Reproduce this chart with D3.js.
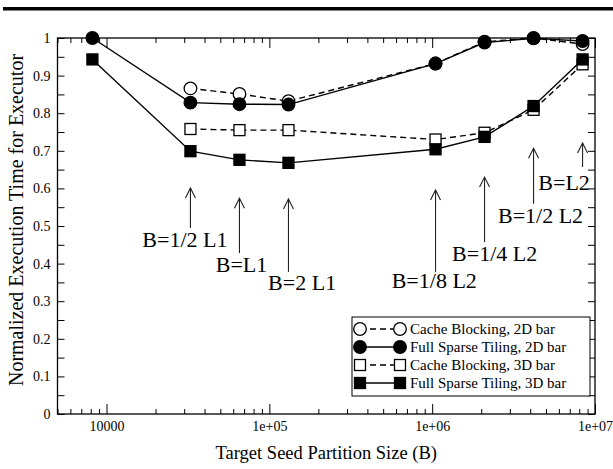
<!DOCTYPE html>
<html>
<head>
<meta charset="utf-8">
<script src="https://cdnjs.cloudflare.com/ajax/libs/d3/7.8.5/d3.min.js"></script>
<style>
  body { margin: 0; background: #fff; }
  svg { display: block; }
</style>
</head>
<body>
<div id="chart"></div>
<script>
var SERIF = '"Liberation Serif", "Times New Roman", serif';

// partition sizes (bytes) on the x axis
var sizes = [8192, 32768, 65536, 131072, 1048576, 2097152, 4194304, 8388608];

// normalized execution time per series (null = not measured)
var cacheBlocking2D  = [null, 0.866, 0.851, 0.832, 0.932, 0.990, 1.000, 0.984];
var fullSparse2D     = [1.000, 0.828, 0.824, 0.823, 0.932, 0.988, 0.999, 0.992];
var cacheBlocking3D  = [null, 0.758, 0.755, 0.755, 0.730, 0.748, 0.809, 0.930];
var fullSparse3D     = [0.943, 0.699, 0.676, 0.668, 0.704, 0.737, 0.819, 0.943];

var seriesNames = ["Cache Blocking, 2D bar", "Full Sparse Tiling, 2D bar",
                   "Cache Blocking, 3D bar", "Full Sparse Tiling, 3D bar"];

var yTickValues = [0, 0.1, 0.2, 0.3, 0.4, 0.5, 0.6, 0.7, 0.8, 0.9, 1];
var yTickLabels = ["0", "0.1", "0.2", "0.3", "0.4", "0.5", "0.6", "0.7", "0.8", "0.9", "1"];
var xTickValues = [1e4, 1e5, 1e6, 1e7];
var xTickLabels = ["10000", "1e+05", "1e+06", "1e+07"];

// arrow annotations: label, size pointed at, arrow tip / tail (y units), label anchor (size, y)
var noteLabels = ["B=1/2 L1", "B=L1", "B=2 L1", "B=1/8 L2", "B=1/4 L2", "B=1/2 L2", "B=L2"];
var noteSizes  = [32768, 65536, 131072, 1048576, 2097152, 4194304, 8388608];
var noteTips   = [0.601, 0.574, 0.572, 0.596, 0.630, 0.707, 0.721];
var noteTails  = [0.495, 0.428, 0.378, 0.378, 0.457, 0.559, 0.657];
var noteTextX  = [30300, 67500, 159000, 1030000, 2420000, 4630000, 6460000];
var noteTextY  = [0.444, 0.378, 0.330, 0.335, 0.407, 0.508, 0.596];

var W = 613, H = 469;
var margin = { top: 38, right: 18, bottom: 55, left: 57.5 };
var width = W - margin.left - margin.right,
    height = H - margin.top - margin.bottom;

var svg = d3.select("#chart").append("svg")
  .attr("width", W)
  .attr("height", H);

// thick rule at the top of the page
svg.append("rect")
  .attr("x", 3).attr("y", 7)
  .attr("width", W - 3).attr("height", 3.5)
  .attr("fill", "#000");

var g = svg.append("g")
  .attr("transform", "translate(" + margin.left + "," + margin.top + ")");

var x = d3.scaleLog().domain([5000, 1e7]).range([0, width]);
var y = d3.scaleLinear().domain([0, 1]).range([height, 0]);

// minor ticks 2..9 per decade
var xMinor = [];
[1e3, 1e4, 1e5, 1e6].forEach(function(dec) {
  for (var k = 2; k <= 9; k++) {
    var v = dec * k;
    if (v >= 5000 && v <= 1e7) xMinor.push(v);
  }
});
var yMinor = d3.range(0.05, 1, 0.1);

function axisStyle(sel) {
  sel.attr("font-family", null).attr("font-size", null);
  sel.select(".domain").remove();
  sel.selectAll("line").attr("stroke", "#000").attr("stroke-width", 1);
  sel.selectAll("text")
    .style("font-family", SERIF)
    .style("font-size", "14px")
    .attr("fill", "#000");
}

// bottom axis
g.append("g")
  .attr("transform", "translate(0," + height + ")")
  .call(d3.axisBottom(x).tickValues(xTickValues)
    .tickFormat(function(d, i) { return xTickLabels[i]; })
    .tickSizeInner(-10).tickPadding(7))
  .call(axisStyle);
g.append("g")
  .attr("transform", "translate(0," + height + ")")
  .call(d3.axisBottom(x).tickValues(xMinor).tickFormat("").tickSizeInner(-5))
  .call(axisStyle);
// top axis
g.append("g")
  .call(d3.axisTop(x).tickValues(xTickValues).tickFormat("").tickSizeInner(-10))
  .call(axisStyle);
g.append("g")
  .call(d3.axisTop(x).tickValues(xMinor).tickFormat("").tickSizeInner(-5))
  .call(axisStyle);

// left axis
g.append("g")
  .call(d3.axisLeft(y).tickValues(yTickValues)
    .tickFormat(function(d, i) { return yTickLabels[i]; })
    .tickSizeInner(-7).tickPadding(7))
  .call(axisStyle);
g.append("g")
  .call(d3.axisLeft(y).tickValues(yMinor).tickFormat("").tickSizeInner(-7))
  .call(axisStyle);
// right axis
g.append("g")
  .attr("transform", "translate(" + width + ",0)")
  .call(d3.axisRight(y).tickValues(yTickValues).tickFormat("").tickSizeInner(-7))
  .call(axisStyle);
g.append("g")
  .attr("transform", "translate(" + width + ",0)")
  .call(d3.axisRight(y).tickValues(yMinor).tickFormat("").tickSizeInner(-7))
  .call(axisStyle);

// frame
g.append("rect")
  .attr("width", width).attr("height", height)
  .attr("fill", "none").attr("stroke", "#000").attr("stroke-width", 1.3);

// axis titles
svg.append("text")
  .attr("x", margin.left + width / 2).attr("y", 459)
  .attr("text-anchor", "middle")
  .style("font-family", SERIF)
  .style("font-size", "18.5px")
  .text("Target Seed Partition Size (B)");

svg.append("text")
  .attr("transform", "translate(23," + (margin.top + height / 2 - 6) + ") rotate(-90)")
  .attr("text-anchor", "middle")
  .style("font-family", SERIF)
  .style("font-size", "20px")
  .text("Normalized Execution Time for Executor");

// series
var series = [
  { name: seriesNames[0], values: cacheBlocking2D, dashed: true,  filled: false, shape: "circle" },
  { name: seriesNames[1], values: fullSparse2D,    dashed: false, filled: true,  shape: "circle" },
  { name: seriesNames[2], values: cacheBlocking3D, dashed: true,  filled: false, shape: "square" },
  { name: seriesNames[3], values: fullSparse3D,    dashed: false, filled: true,  shape: "square" }
];

var line = d3.line()
  .defined(function(d) { return d.v != null; })
  .x(function(d) { return x(d.s); })
  .y(function(d) { return y(d.v); });

function drawMarker(sel, s, cx, cy) {
  if (s.shape == "circle") {
    sel.append("circle")
      .attr("cx", cx).attr("cy", cy).attr("r", 6.3)
      .attr("fill", s.filled ? "#000" : "#fff")
      .attr("stroke", "#000").attr("stroke-width", 1.3);
  } else {
    sel.append("rect")
      .attr("x", cx - 5.5).attr("y", cy - 5.5)
      .attr("width", 11).attr("height", 11)
      .attr("fill", s.filled ? "#000" : "#fff")
      .attr("stroke", "#000").attr("stroke-width", 1.3);
  }
}

series.forEach(function(s) {
  var pts = sizes.map(function(d, i) { return { s: d, v: s.values[i] }; })
    .filter(function(d) { return d.v != null; });

  var sg = g.append("g");
  sg.append("path")
    .datum(pts)
    .attr("d", line)
    .attr("fill", "none")
    .attr("stroke", "#000")
    .attr("stroke-width", 1.4)
    .attr("stroke-dasharray", s.dashed ? "6,4" : null);

  pts.forEach(function(p) {
    drawMarker(sg, s, x(p.s), y(p.v));
  });
});

// annotations
noteLabels.forEach(function(lbl, i) {
  var ax = x(noteSizes[i]);
  var tipY = y(noteTips[i]), tailY = y(noteTails[i]);
  g.append("line")
    .attr("x1", ax).attr("x2", ax)
    .attr("y1", tailY).attr("y2", tipY)
    .attr("stroke", "#222").attr("stroke-width", 1.1);
  g.append("path")
    .attr("d", "M" + (ax - 5) + "," + (tipY + 10) + "L" + ax + "," + tipY + "L" + (ax + 5) + "," + (tipY + 10))
    .attr("fill", "none").attr("stroke", "#222").attr("stroke-width", 1.1);
  g.append("text")
    .attr("x", x(noteTextX[i])).attr("y", y(noteTextY[i]))
    .attr("text-anchor", "middle")
    .style("font-family", SERIF)
    .style("font-size", "22px")
    .text(lbl);
});

// legend
var legend = svg.append("g").attr("transform", "translate(352,317)");
legend.append("rect")
  .attr("width", 238).attr("height", 79)
  .attr("fill", "#fff").attr("stroke", "#000").attr("stroke-width", 1);

series.forEach(function(s, i) {
  var ly = 12 + i * 18;
  legend.append("line")
    .attr("x1", 8).attr("x2", 48)
    .attr("y1", ly).attr("y2", ly)
    .attr("stroke", "#000").attr("stroke-width", 1.4)
    .attr("stroke-dasharray", s.dashed ? "6,4" : null);
  drawMarker(legend, s, 8, ly);
  drawMarker(legend, s, 48, ly);
  legend.append("text")
    .attr("x", 58).attr("y", ly + 5)
    .style("font-family", SERIF)
    .style("font-size", "15px")
    .text(s.name);
});
</script>
</body>
</html>
